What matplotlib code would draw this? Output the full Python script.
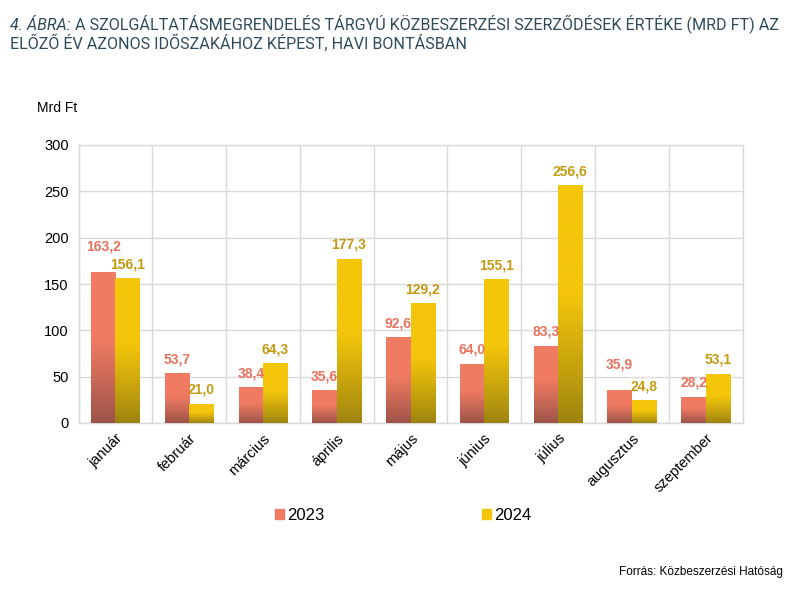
import numpy as np
import matplotlib
matplotlib.use("Agg")
import matplotlib.pyplot as plt
from matplotlib.colors import to_rgb
from matplotlib.patches import Patch

# data
months = ["január", "február", "március", "április", "május",
          "június", "július", "augusztus", "szeptember"]
values_2023 = [163.2, 53.7, 38.4, 35.6, 92.6, 64.0, 83.3, 35.9, 28.2]
values_2024 = [156.1, 21.0, 64.3, 177.3, 129.2, 155.1, 256.6, 24.8, 53.1]
series_names = ["2023", "2024"]
y_ticks = [0, 50, 100, 150, 200, 250, 300]

red_top, red_bottom = "#F07B62", "#9A5248"
gold_top, gold_bottom = "#F4C60A", "#9C8310"
red_label, gold_label = "#E8735F", "#C39A12"
grid_col = "#D9D9D9"
title_col = "#2E4B5C"

plt.rcParams["font.family"] = ["Liberation Sans", "DejaVu Sans"]

fig = plt.figure(figsize=(8, 5.89), dpi=100)
ax = fig.add_axes([78.5 / 800, 1 - 423 / 589, 664 / 800, 278 / 589])


def gradient_bar(ax, bar, top, bottom):
    # vertical gradient, darker in the lower part of the bar
    t = np.linspace(0, 1, 256)
    ramp = np.clip(t / 0.55, 0, 1) ** 0.9
    c_top = np.array(to_rgb(top))
    c_bot = np.array(to_rgb(bottom))
    cols = c_bot[None, :] + (c_top - c_bot)[None, :] * ramp[:, None]
    img = cols[:, None, :]
    x0, y0 = bar.get_x(), bar.get_y()
    w, h = bar.get_width(), bar.get_height()
    im = ax.imshow(img, extent=[x0, x0 + w, y0, y0 + h], origin="lower",
                   aspect="auto", zorder=3, interpolation="bilinear")
    im.set_clip_path(bar)
    bar.set_facecolor("none")


x = np.arange(len(months))
bw = 0.33
bars1 = ax.bar(x - bw / 2, values_2023, bw, color=red_top, zorder=3, linewidth=0)
bars2 = ax.bar(x + bw / 2, values_2024, bw, color=gold_top, zorder=3, linewidth=0)
for b in bars1:
    gradient_bar(ax, b, red_top, red_bottom)
for b in bars2:
    gradient_bar(ax, b, gold_top, gold_bottom)

# value labels; when the two labels of a month would collide, lift the higher one
for i in range(len(months)):
    v1, v2 = values_2023[i], values_2024[i]
    close = abs(v1 - v2) < 12
    for b, v, other, col in [(bars1[i], v1, v2, red_label), (bars2[i], v2, v1, gold_label)]:
        dy = 5 + (8 if close and v >= other else 0)
        ax.annotate(f"{v:.1f}".replace(".", ","),
                    (b.get_x() + b.get_width() / 2, v),
                    xytext=(0, dy), textcoords="offset points",
                    ha="center", va="bottom", color=col,
                    fontsize=10, fontweight="bold", zorder=5)

ax.set_xlim(-0.5, len(months) - 0.5)
ax.set_ylim(0, 300)
ax.set_yticks(y_ticks)
ax.set_xticks(np.arange(len(months) + 1) - 0.5, minor=True)
ax.set_xticks(x)
ax.set_xticklabels(months, rotation=45, ha="right", rotation_mode="anchor",
                   fontsize=10.5)
ax.tick_params(axis="both", which="both", length=0)
ax.tick_params(axis="y", labelsize=10.5, pad=7)
ax.tick_params(axis="x", pad=6)
ax.grid(axis="y", color=grid_col, linewidth=1, zorder=0)
ax.grid(axis="x", which="minor", color=grid_col, linewidth=1, zorder=0)
for s in ax.spines.values():
    s.set_color(grid_col)
    s.set_linewidth(1)

# title, two lines, italic prefix
t1 = fig.text(10 / 800, 1 - 25 / 589, "4. ÁBRA:", fontsize=11.6, style="italic",
              color=title_col, family="Roboto", va="center")
ax.annotate(" A SZOLGÁLTATÁSMEGRENDELÉS TÁRGYÚ KÖZBESZERZÉSI SZERZŐDÉSEK ÉRTÉKE (MRD FT) AZ",
            xy=(1, 0.5), xycoords=t1, va="center", ha="left",
            fontsize=11.6, color=title_col, family="Roboto")
fig.text(10 / 800, 1 - 43 / 589, "ELŐZŐ ÉV AZONOS IDŐSZAKÁHOZ KÉPEST, HAVI BONTÁSBAN",
         fontsize=11.6, color=title_col, family="Roboto", va="center")

fig.text(37 / 800, 1 - 108 / 589, "Mrd Ft", fontsize=10, va="center")

handles = [Patch(color=red_top), Patch(color=gold_top)]
fig.legend(handles, series_names, loc="center", bbox_to_anchor=(0.504, 1 - 515 / 589),
           ncol=2, frameon=False, fontsize=12, handlelength=0.55, handleheight=0.55,
           handletextpad=0.2, columnspacing=9.4)

fig.text(783 / 800, 1 - 572 / 589, "Forrás: Közbeszerzési Hatóság", fontsize=8.5,
         ha="right", va="center")

fig.savefig("out.png", dpi=100)
